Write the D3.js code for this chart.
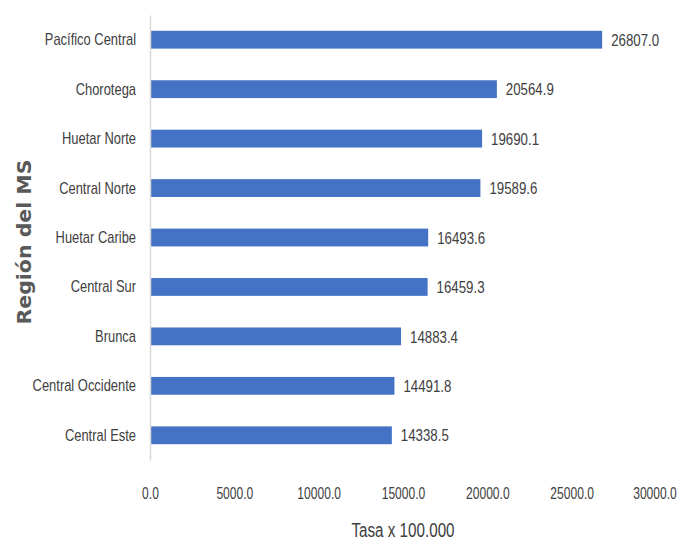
<!DOCTYPE html>
<html>
<head>
<meta charset="utf-8">
<script src="https://cdn.jsdelivr.net/npm/d3@7"></script>
<style>
  body { margin: 0; background: #fff; }
  svg text { font-family: "Liberation Sans", Arial, sans-serif; fill: #404040; }
</style>
</head>
<body>
<div id="chart"></div>
<script>
var regiones = ["Pacífico Central", "Chorotega", "Huetar Norte", "Central Norte", "Huetar Caribe",
  "Central Sur", "Brunca", "Central Occidente", "Central Este"];
var tasas = [26807.0, 20564.9, 19690.1, 19589.6, 16493.6, 16459.3, 14883.4, 14491.8, 14338.5];
var ticks = [0, 5000, 10000, 15000, 20000, 25000, 30000];

var w = 683, h = 541;
var margin = {top: 15, right: 27, bottom: 81, left: 150};

// the original text is tall and narrow, so squeeze glyphs sideways
function condense(sel, factor) {
  sel.each(function() {
    var len = this.getComputedTextLength();
    d3.select(this)
      .attr("textLength", len * factor)
      .attr("lengthAdjust", "spacingAndGlyphs");
  });
}

var svg = d3.select("#chart")
  .append("svg")
  .attr("width", w)
  .attr("height", h);

var xScale = d3.scaleLinear()
  .domain([0, 30000])
  .range([margin.left, w - margin.right]);

var yScale = d3.scaleBand()
  .domain(regiones)
  .range([margin.top, h - margin.bottom])
  .paddingInner(0.64)
  .paddingOuter(0.32);

var data = regiones.map(function(d, i) {
  return {region: d, tasa: tasas[i]};
});

// bars
svg.selectAll("rect.bar")
  .data(data)
  .enter()
  .append("rect")
  .attr("class", "bar")
  .attr("x", xScale(0))
  .attr("y", function(d) { return yScale(d.region); })
  .attr("width", function(d) { return xScale(d.tasa) - xScale(0); })
  .attr("height", yScale.bandwidth())
  .attr("fill", "#4472C4");

// value labels
svg.selectAll("text.val")
  .data(data)
  .enter()
  .append("text")
  .attr("class", "val")
  .attr("x", function(d) { return xScale(d.tasa) + 9; })
  .attr("y", function(d) { return yScale(d.region) + yScale.bandwidth() / 2; })
  .attr("dy", "0.36em")
  .style("font-size", "17px")
  .text(function(d) { return d.tasa.toFixed(1); })
  .call(condense, 0.78);

// y axis
var yAxis = svg.append("g")
  .attr("transform", "translate(" + xScale(0) + ",0)")
  .call(d3.axisLeft(yScale).tickSize(0).tickPadding(14));
yAxis.select(".domain").attr("stroke", "#d9d9d9").attr("stroke-width", 1.5);
yAxis.selectAll("text")
  .style("font-size", "17px")
  .attr("fill", "#404040")
  .call(condense, 0.76);

// x axis (labels only), squeezed with a scale so the box is the real one
var xAxis = svg.append("g")
  .attr("transform", "translate(0," + (h - margin.bottom) + ")")
  .call(d3.axisBottom(xScale).tickValues(ticks).tickSize(0).tickPadding(27)
    .tickFormat(function(d) { return d.toFixed(1); }));
xAxis.select(".domain").remove();
xAxis.selectAll("text")
  .style("font-size", "17px")
  .attr("fill", "#404040")
  .attr("transform", "scale(0.71,1)");

// last label sits right on the edge
xAxis.selectAll(".tick")
  .filter(function(d) { return d === 30000; })
  .attr("transform", "translate(" + (xScale(30000) - 1) + ",0)");

// axis titles
svg.append("text")
  .attr("x", (xScale(0) + xScale(30000)) / 2)
  .attr("y", 537)
  .attr("text-anchor", "middle")
  .style("font-size", "20px")
  .text("Tasa x 100.000")
  .call(condense, 0.76);

svg.append("text")
  .attr("transform", "translate(31,242) rotate(-90)")
  .attr("text-anchor", "middle")
  .attr("textLength", 165)
  .attr("lengthAdjust", "spacingAndGlyphs")
  .style("font-family", "'DejaVu Sans', sans-serif")
  .style("font-weight", "bold")
  .style("font-size", "19px")
  .style("fill", "#595959")
  .text("Región del MS");
</script>
</body>
</html>
